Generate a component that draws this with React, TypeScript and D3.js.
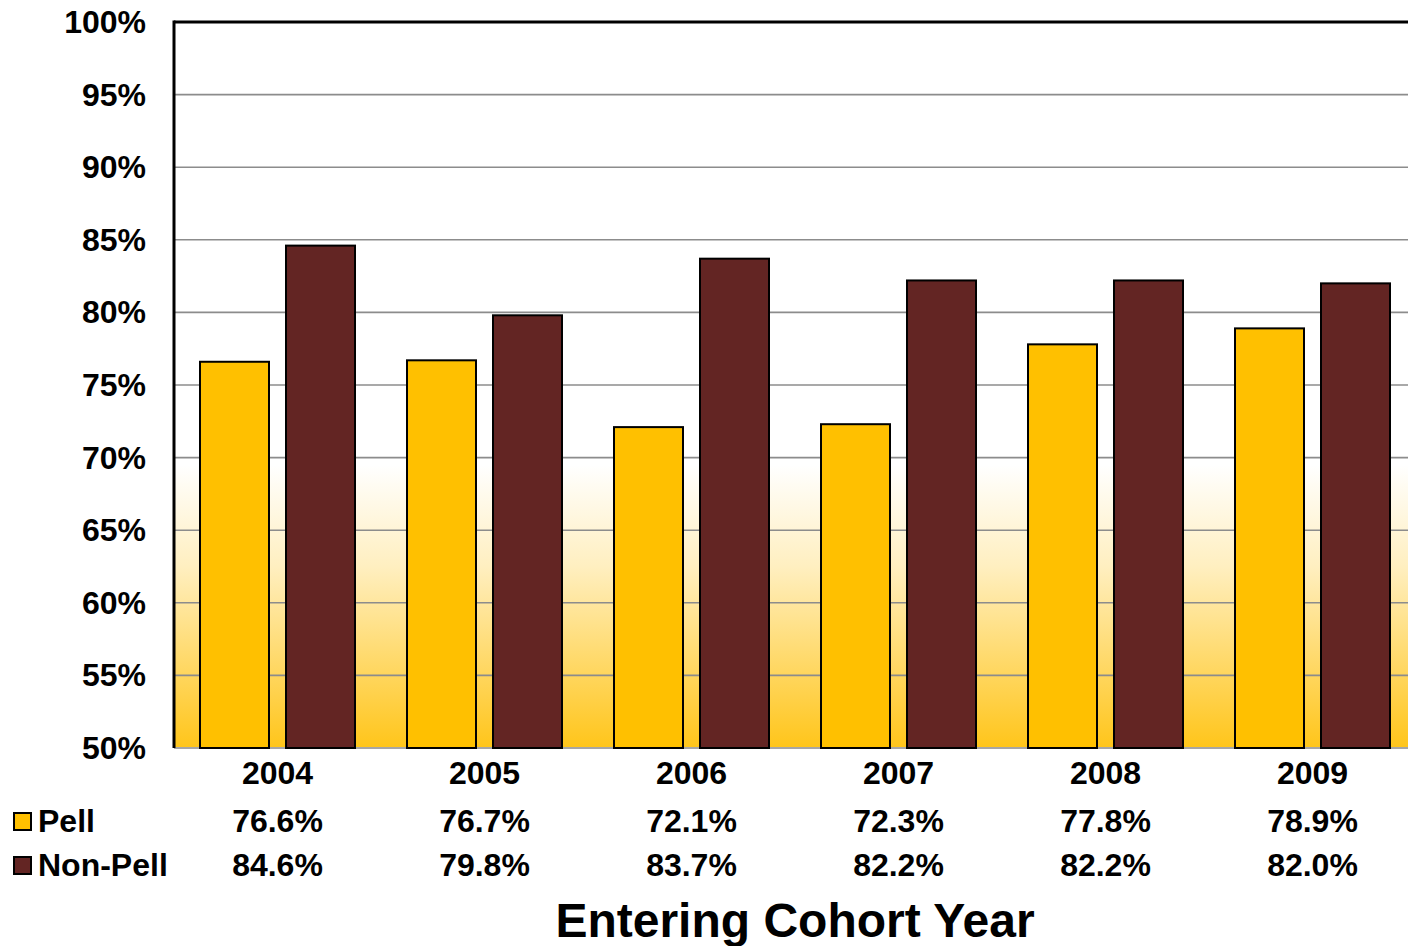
import React from "react";
import * as d3 from "d3";

const years = ["2004", "2005", "2006", "2007", "2008", "2009"];
const pell = [76.6, 76.7, 72.1, 72.3, 77.8, 78.9];
const nonPell = [84.6, 79.8, 83.7, 82.2, 82.2, 82.0];
const yTicks = [50, 55, 60, 65, 70, 75, 80, 85, 90, 95, 100];
const seriesNames = ["Pell", "Non-Pell"];
const seriesColors = ["#FFC000", "#632523"];

const W = 1408;
const H = 946;
const left = 174;
const top = 22;
const bottom = 748;
const right = 174 + 207 * 6;

export default function App() {
  const x = d3.scaleBand<string>().domain(years).range([left, right]).paddingInner(0).paddingOuter(0);
  const inner = d3.scaleBand<string>().domain(seriesNames).range([26, 207 - 26]).paddingInner(17 / 86);
  const y = d3.scaleLinear().domain([50, 100]).range([bottom, top]);
  const font = "'Liberation Sans', Arial, sans-serif";
  const series = [pell, nonPell];
  const fs = 32;

  return (
    <svg width={W} height={H} style={{ position: "absolute", left: 0, top: 0, background: "#fff" }}>
      <defs>
        <linearGradient id="bg" x1="0" y1={top} x2="0" y2={bottom} gradientUnits="userSpaceOnUse">
          <stop offset="0" stopColor="#ffffff" />
          <stop offset="0.61" stopColor="#ffffff" />
          <stop offset="0.75" stopColor="#FFEFC0" />
          <stop offset="1" stopColor="#FFC51A" />
        </linearGradient>
      </defs>
      <rect x={left} y={top} width={right - left} height={bottom - top} fill="url(#bg)" />
      {yTicks.slice(1, -1).map((t) => (
        <line key={t} x1={left} x2={right} y1={y(t)} y2={y(t)} stroke="#8c8c8c" strokeWidth={1.6} />
      ))}
      <line x1={left} x2={right} y1={bottom} y2={bottom} stroke="#a6a6a6" strokeWidth={2} />
      {years.map((yr, i) =>
        series.map((s, j) => {
          const bx = (x(yr) as number) + (inner(seriesNames[j]) as number);
          const by = y(s[i]);
          return (
            <rect
              key={yr + j}
              x={bx}
              y={by}
              width={inner.bandwidth()}
              height={bottom - by}
              fill={seriesColors[j]}
              stroke="#000"
              strokeWidth={2}
            />
          );
        })
      )}
      <line x1={left} x2={right} y1={top} y2={top} stroke="#000" strokeWidth={3} />
      <line x1={left} x2={left} y1={top - 1.5} y2={bottom} stroke="#000" strokeWidth={3} />
      {yTicks.map((t) => (
        <text key={t} x={146} y={y(t) + 11} textAnchor="end" fontFamily={font} fontWeight="bold" fontSize={fs} fill="#000">
          {t}%
        </text>
      ))}
      {years.map((yr, i) => {
        const cx = (x(yr) as number) + x.bandwidth() / 2;
        return (
          <g key={yr}>
            <text x={cx} y={784} textAnchor="middle" fontFamily={font} fontWeight="bold" fontSize={fs}>
              {yr}
            </text>
            <text x={cx} y={832} textAnchor="middle" fontFamily={font} fontWeight="bold" fontSize={fs}>
              {pell[i].toFixed(1)}%
            </text>
            <text x={cx} y={876} textAnchor="middle" fontFamily={font} fontWeight="bold" fontSize={fs}>
              {nonPell[i].toFixed(1)}%
            </text>
          </g>
        );
      })}
      {seriesNames.map((n, j) => (
        <g key={n}>
          <rect x={14} y={[813, 857][j]} width={17} height={17} fill={seriesColors[j]} stroke="#000" strokeWidth={2} />
          <text x={38} y={[832, 876][j]} fontFamily={font} fontWeight="bold" fontSize={fs}>
            {n}
          </text>
        </g>
      ))}
      <text x={795} y={937} textAnchor="middle" fontFamily={font} fontWeight="bold" fontSize={48}>
        Entering Cohort Year
      </text>
    </svg>
  );
}
